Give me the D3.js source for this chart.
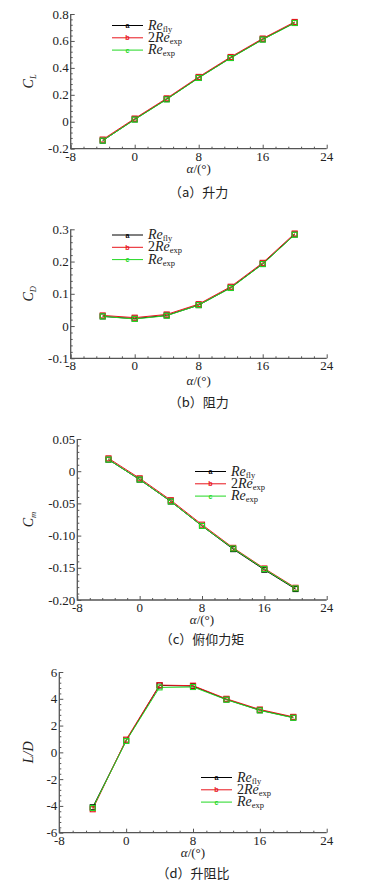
<!DOCTYPE html>
<html>
<head>
<meta charset="utf-8">
<script src="https://cdn.jsdelivr.net/npm/d3@7"></script>
<style>
  html, body { margin: 0; padding: 0; background: #fff; }
  svg { display: block; }
</style>
</head>
<body>
<svg id="chart" width="382" height="882"></svg>
<script>
/* Four stacked panels: CL, CD, Cm, L/D vs alpha, three Reynolds numbers */

const ALPHA = [-4, 0, 4, 8, 12, 16, 20];
const X_TICKS = [-8, 0, 8, 16, 24];

const CL_FLY  = [-0.140, 0.018, 0.168, 0.327, 0.475, 0.612, 0.735];
const CL_2EXP = [-0.132, 0.024, 0.174, 0.333, 0.481, 0.618, 0.741];
const CL_EXP  = [-0.140, 0.016, 0.166, 0.325, 0.473, 0.610, 0.733];

const CD_FLY  = [0.030, 0.023, 0.033, 0.065, 0.119, 0.193, 0.284];
const CD_2EXP = [0.033, 0.026, 0.036, 0.068, 0.122, 0.196, 0.287];
const CD_EXP  = [0.030, 0.022, 0.032, 0.065, 0.118, 0.192, 0.283];

const CM_FLY  = [0.018, -0.013, -0.047, -0.085, -0.121, -0.153, -0.183];
const CM_2EXP = [0.020, -0.011, -0.045, -0.083, -0.119, -0.151, -0.181];
const CM_EXP  = [0.018, -0.013, -0.047, -0.085, -0.120, -0.152, -0.182];

const LD_FLY  = [-4.10, 0.87, 5.00, 4.95, 3.95, 3.15, 2.60];
const LD_2EXP = [-4.25, 0.95, 5.02, 4.98, 4.00, 3.20, 2.65];
const LD_EXP  = [-4.15, 0.85, 4.85, 4.88, 3.93, 3.13, 2.58];

const SERIES_NAMES  = ['fly', '2exp', 'exp'];
const SERIES_COLOR  = { 'fly': '#000000', '2exp': '#e8141c', 'exp': '#22d822' };
const SERIES_MARK   = { 'fly': 'a', '2exp': 'b', 'exp': 'c' };

const CL_TICKS = [-0.2, 0, 0.2, 0.4, 0.6, 0.8];
const CD_TICKS = [-0.1, 0, 0.1, 0.2, 0.3];
const CM_TICKS = [-0.20, -0.15, -0.10, -0.05, 0, 0.05];
const LD_TICKS = [-6, -4, -2, 0, 2, 4, 6];

const SERIF = '"Liberation Serif", "Times New Roman", serif';
const CJK   = '"Noto Sans CJK SC", sans-serif';
const AXIS_COLOR = '#555';

const svg = d3.select('#chart');

/* panel layout (pixel frame of each plot area) */
const panels = [
  { top: 14, bottom: 148.7, left: 70.7, right: 326.7,
    domain: [-0.2, 0.8], ticks: CL_TICKS, fmt: d => d === 0 ? '0' : d.toFixed(1),
    data: { 'fly': CL_FLY, '2exp': CL_2EXP, 'exp': CL_EXP },
    ylab: ['C', 'L'], ylabX: 33, legX: 112, legY: 25.5,
    xlabY: 173, caption: '（a）升力', capY: 197 },
  { top: 229.3, bottom: 358.3, left: 70.7, right: 326.7,
    domain: [-0.1, 0.3], ticks: CD_TICKS, fmt: d => d === 0 ? '0' : d.toFixed(1),
    data: { 'fly': CD_FLY, '2exp': CD_2EXP, 'exp': CD_EXP },
    ylab: ['C', 'D'], ylabX: 33, legX: 112, legY: 235,
    xlabY: 385, caption: '（b）阻力', capY: 407 },
  { top: 439, bottom: 600, left: 77.3, right: 326.7,
    domain: [-0.20, 0.05], ticks: CM_TICKS, fmt: d => d === 0 ? '0' : d.toFixed(2),
    data: { 'fly': CM_FLY, '2exp': CM_2EXP, 'exp': CM_EXP },
    ylab: ['C', 'm'], ylabX: 33, legX: 195, legY: 471.5,
    xlabY: 624, caption: '（c）俯仰力矩', capY: 644 },
  { top: 672, bottom: 832.7, left: 59.3, right: 326.7,
    domain: [-6, 6], ticks: LD_TICKS, fmt: d => String(d),
    data: { 'fly': LD_FLY, '2exp': LD_2EXP, 'exp': LD_EXP },
    ylab: null, ylabX: 33, legX: 201, legY: 777.5,
    xlabY: 857, caption: '（d）升阻比', capY: 878 },
];

panels.forEach(p => {
  const x = d3.scaleLinear().domain([-8, 24]).range([p.left, p.right]);
  const y = d3.scaleLinear().domain(p.domain).range([p.bottom, p.top]);
  const g = svg.append('g');

  /* ── Minor ticks (inward) ── */
  const xMinor = [];
  for (let i = 0; i < X_TICKS.length - 1; i++) {
    const step = (X_TICKS[i + 1] - X_TICKS[i]) / 5;
    for (let k = 1; k < 5; k++) xMinor.push(X_TICKS[i] + k * step);
  }
  const yMinor = [];
  for (let i = 0; i < p.ticks.length - 1; i++) {
    const step = (p.ticks[i + 1] - p.ticks[i]) / 5;
    for (let k = 1; k < 5; k++) yMinor.push(p.ticks[i] + k * step);
  }

  /* ── X axis ── */
  g.append('g')
    .attr('transform', `translate(0,${p.bottom})`)
    .call(d3.axisTop(x).tickValues(X_TICKS).tickSize(4).tickFormat(''))
    .call(ax => ax.select('.domain').remove());
  g.append('g')
    .attr('transform', `translate(0,${p.bottom})`)
    .call(d3.axisTop(x).tickValues(xMinor).tickSize(2).tickFormat(''))
    .call(ax => ax.select('.domain').remove());
  g.selectAll('.xlab')
    .data(X_TICKS)
    .join('text')
    .attr('x', d => x(d))
    .attr('y', p.bottom + 12)
    .attr('text-anchor', 'middle')
    .attr('font-family', SERIF)
    .attr('font-size', 13)
    .attr('fill', '#222')
    .text(d => d);

  /* ── Y axis ── */
  g.append('g')
    .attr('transform', `translate(${p.left},0)`)
    .call(d3.axisRight(y).tickValues(p.ticks).tickSize(4).tickFormat(''))
    .call(ax => ax.select('.domain').remove());
  g.append('g')
    .attr('transform', `translate(${p.left},0)`)
    .call(d3.axisRight(y).tickValues(yMinor).tickSize(2).tickFormat(''))
    .call(ax => ax.select('.domain').remove());
  g.selectAll('.ylab')
    .data(p.ticks)
    .join('text')
    .attr('x', p.left - 2)
    .attr('y', d => y(d))
    .attr('dy', '0.35em')
    .attr('text-anchor', 'end')
    .attr('font-family', SERIF)
    .attr('font-size', 13)
    .attr('fill', '#222')
    .text(p.fmt);

  g.selectAll('.tick line').attr('stroke', AXIS_COLOR).attr('stroke-width', 1);

  /* axis lines (left + bottom only) */
  g.append('path')
    .attr('d', `M${p.left},${p.top}V${p.bottom}H${p.right}`)
    .attr('fill', 'none')
    .attr('stroke', AXIS_COLOR)
    .attr('stroke-width', 1.3);

  /* ── Series lines and square markers ── */
  const line = d3.line().x((d, i) => x(ALPHA[i])).y(d => y(d));
  SERIES_NAMES.forEach(s => {
    g.append('path')
      .datum(p.data[s])
      .attr('d', line)
      .attr('fill', 'none')
      .attr('stroke', SERIES_COLOR[s])
      .attr('stroke-width', 1);
  });
  SERIES_NAMES.forEach(s => {
    g.selectAll(null)
      .data(p.data[s])
      .join('rect')
      .attr('x', (d, i) => x(ALPHA[i]) - 2.5)
      .attr('y', d => y(d) - 2.5)
      .attr('width', 5)
      .attr('height', 5)
      .attr('fill', 'none')
      .attr('stroke', SERIES_COLOR[s])
      .attr('stroke-width', 1.1);
  });

  /* ── Legend ── */
  const legend = g.append('g');
  SERIES_NAMES.forEach((s, i) => {
    const ly = p.legY + i * 12.3;
    legend.append('line')
      .attr('x1', p.legX).attr('x2', p.legX + 31)
      .attr('y1', ly).attr('y2', ly)
      .attr('stroke', SERIES_COLOR[s])
      .attr('stroke-width', 1);
    legend.append('text')
      .attr('x', p.legX + 15.5)
      .attr('y', ly + 2.5)
      .attr('text-anchor', 'middle')
      .attr('font-family', 'Arial, sans-serif')
      .attr('font-weight', 700)
      .attr('font-size', 7)
      .attr('fill', SERIES_COLOR[s])
      .text(SERIES_MARK[s]);
    const t = legend.append('text')
      .attr('x', p.legX + 36)
      .attr('y', ly + 4)
      .attr('font-family', SERIF)
      .attr('font-size', 14)
      .attr('fill', '#222');
    if (s === '2exp') t.append('tspan').text('2');
    t.append('tspan').attr('font-style', 'italic').text('Re');
    t.append('tspan').attr('font-size', 8.5).attr('dy', 2)
      .text(s === 'fly' ? 'fly' : 'exp');
  });

  /* ── Y label ── */
  const yl = g.append('text')
    .attr('transform', `translate(${p.ylabX},${(p.top + p.bottom) / 2}) rotate(-90)`)
    .attr('text-anchor', 'middle')
    .attr('font-family', SERIF)
    .attr('font-size', 14)
    .attr('fill', '#222');
  if (p.ylab) {
    yl.append('tspan').attr('font-style', 'italic').text(p.ylab[0]);
    yl.append('tspan').attr('font-style', 'italic').attr('font-size', 8.5)
      .attr('dy', 2.5).text(p.ylab[1]);
  } else {
    yl.append('tspan').attr('font-style', 'italic').text('L/D');
  }

  /* ── X label ── */
  const xl = g.append('text')
    .attr('x', x(8))
    .attr('y', p.xlabY)
    .attr('text-anchor', 'middle')
    .attr('font-family', SERIF)
    .attr('font-size', 13)
    .attr('fill', '#222');
  xl.append('tspan').attr('font-style', 'italic').text('α');
  xl.append('tspan').text('/(°)');

  /* ── Caption ── */
  g.append('text')
    .attr('x', x(8))
    .attr('y', p.capY)
    .attr('text-anchor', 'middle')
    .attr('font-family', CJK)
    .attr('font-size', 13)
    .attr('fill', '#222')
    .text(p.caption);
});
</script>
</body>
</html>
